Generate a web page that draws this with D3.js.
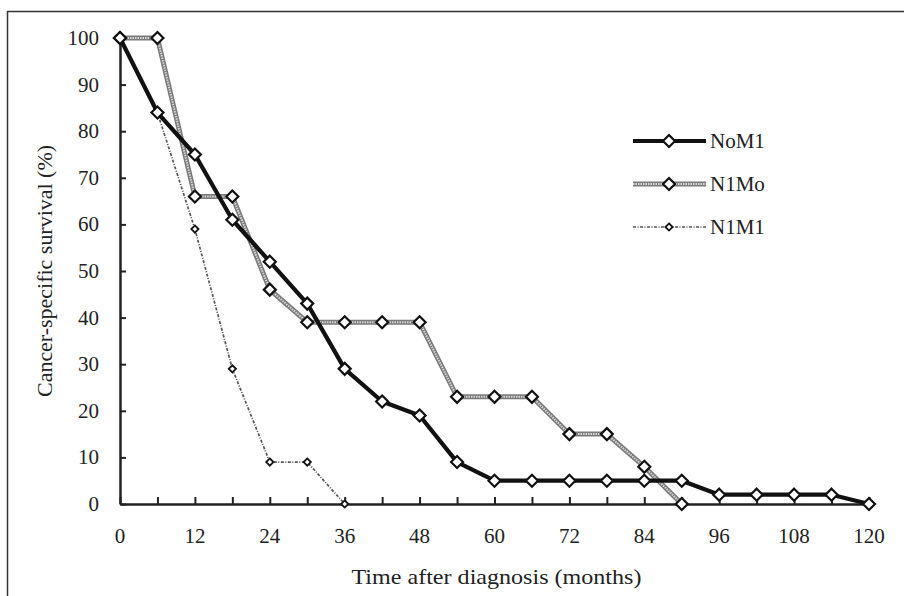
<!DOCTYPE html>
<html lang="en">
<head>
<meta charset="UTF-8">
<title>Cancer-specific survival</title>
<script src="https://d3js.org/d3.v7.min.js"></script>
<style>
    body { margin: 0; background: #fff; overflow: hidden; }
    text { font-family: "Liberation Serif", "Times New Roman", serif; fill: #222; }
</style>
</head>
<body>
<svg id="chart" width="904" height="596"></svg>
<script>
    // data (months / % survival)
    const months = [0, 6, 12, 18, 24, 30, 36, 42, 48, 54, 60, 66, 72, 78, 84, 90, 96, 102, 108, 114, 120];
    const noM1 = [100, 84, 75, 61, 52, 43, 29, 22, 19, 9, 5, 5, 5, 5, 5, 5, 2, 2, 2, 2, 0];
    const n1Mo = [100, 100, 66, 66, 46, 39, 39, 39, 39, 23, 23, 23, 15, 15, 8, 0];
    const n1M1 = [100, 84, 59, 29, 9, 9, 0];
    const xTicks = [0, 12, 24, 36, 48, 60, 72, 84, 96, 108, 120];
    const yTicks = [0, 10, 20, 30, 40, 50, 60, 70, 80, 90, 100];
    const seriesNames = ["NoM1", "N1Mo", "N1M1"];

    const W = 904, H = 596;
    const margin = { left: 120, right: 35, top: 38, bottom: 92 };
    const svg = d3.select("#chart");

    // outer frame (only top and left edges show inside the view)
    svg.append("line").attr("x1", 7).attr("x2", W).attr("y1", 11.5).attr("y2", 11.5)
        .attr("stroke", "#333").attr("stroke-width", 1.5);
    svg.append("line").attr("x1", 7.5).attr("x2", 7.5).attr("y1", 11).attr("y2", H)
        .attr("stroke", "#333").attr("stroke-width", 1.5);

    const x = d3.scaleLinear().domain([0, 120]).range([margin.left, W - margin.right]);
    const y = d3.scaleLinear().domain([0, 100]).range([H - margin.bottom, margin.top]);

    // axes: ticks point into the plot
    const xAxis = svg.append("g")
        .attr("transform", `translate(0,${y(0)})`)
        .call(d3.axisBottom(x).tickValues(d3.range(0, 121, 6)).tickSizeInner(-7).tickSizeOuter(0).tickFormat(""));
    xAxis.select(".domain").attr("stroke", "#222").attr("stroke-width", 2.5);
    xAxis.selectAll(".tick line").attr("stroke", "#222").attr("stroke-width", 2);

    const yAxis = svg.append("g")
        .attr("transform", `translate(${x(0)},0)`)
        .call(d3.axisLeft(y).tickValues(yTicks).tickSizeInner(-6).tickSizeOuter(0).tickFormat(""));
    yAxis.select(".domain").attr("stroke", "#222").attr("stroke-width", 2.5);
    yAxis.selectAll(".tick line").attr("stroke", "#222").attr("stroke-width", 2);

    svg.append("g").selectAll("text").data(xTicks).join("text")
        .attr("x", d => x(d)).attr("y", y(0) + 39)
        .attr("text-anchor", "middle").attr("font-size", 21)
        .text(d => d);

    svg.append("g").selectAll("text").data(yTicks).join("text")
        .attr("x", x(0) - 21).attr("y", d => y(d) + 7)
        .attr("text-anchor", "end").attr("font-size", 21)
        .text(d => d);

    svg.append("text")
        .attr("x", (x(0) + x(120)) / 2 + 2).attr("y", H - 12)
        .attr("text-anchor", "middle").attr("font-size", 21)
        .attr("textLength", 290).attr("lengthAdjust", "spacingAndGlyphs")
        .text("Time after diagnosis (months)");

    svg.append("text")
        .attr("transform", `translate(52,${(y(0) + y(100)) / 2}) rotate(-90)`)
        .attr("text-anchor", "middle").attr("font-size", 21)
        .attr("textLength", 252).attr("lengthAdjust", "spacingAndGlyphs")
        .text("Cancer-specific survival (%)");

    const diamond = (r) => `M0,${-r}L${r},0L0,${r}L${-r},0Z`;

    function drawLine(g, pts, style) {
        const line = d3.line().x(d => d[0]).y(d => d[1]);
        if (style === "NoM1") {
            g.append("path").attr("d", line(pts)).attr("fill", "none")
                .attr("stroke", "#111").attr("stroke-width", 4.2).attr("stroke-linejoin", "round");
        } else if (style === "N1Mo") {
            g.append("path").attr("d", line(pts)).attr("fill", "none")
                .attr("stroke", "#7a7a7a").attr("stroke-width", 5);
            g.append("path").attr("d", line(pts)).attr("fill", "none")
                .attr("stroke", "#d8d8d8").attr("stroke-width", 2).attr("stroke-dasharray", "1.5,1");
        } else {
            g.append("path").attr("d", line(pts)).attr("fill", "none")
                .attr("stroke", "#555").attr("stroke-width", 1.7).attr("stroke-dasharray", "3,1.5,1,1.5");
        }
    }

    function drawMarkers(g, pts, style) {
        const small = style === "N1M1";
        g.selectAll("path.mk").data(pts).join("path")
            .attr("class", "mk")
            .attr("transform", d => `translate(${d[0]},${d[1]})`)
            .attr("d", diamond(small ? 3.6 : 6))
            .attr("fill", "#fff").attr("stroke", "#111")
            .attr("stroke-width", small ? 1.8 : 2.2);
    }

    const seriesData = { NoM1: noM1, N1Mo: n1Mo, N1M1: n1M1 };
    const plot = svg.append("g");
    ["N1M1", "N1Mo", "NoM1"].forEach(name => {
        const pts = seriesData[name].map((v, i) => [x(months[i]), y(v)]);
        const g = plot.append("g");
        drawLine(g, pts, name);
        drawMarkers(g, pts, name);
    });

    // legend
    const legendY = [141, 184, 227];
    const legend = svg.append("g");
    seriesNames.forEach((name, i) => {
        const g = legend.append("g").attr("transform", `translate(0,${legendY[i]})`);
        drawLine(g, [[633, 0], [706, 0]], name);
        drawMarkers(g, [[669, 0]], name);
        g.append("text").attr("x", 710).attr("y", 7).attr("font-size", 21).text(name);
    });
</script>
</body>
</html>
